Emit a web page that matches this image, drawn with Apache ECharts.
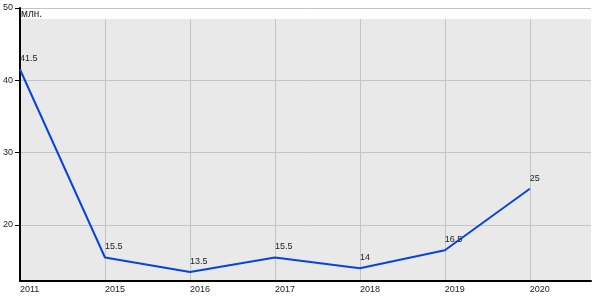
<!DOCTYPE html>
<html><head><meta charset="utf-8">
<script src="https://cdn.jsdelivr.net/npm/echarts@6/dist/echarts.min.js"></script>
<style>html,body{margin:0;padding:0;background:#fff}#c{width:600px;height:300px}</style>
</head><body><div id="c"></div>
<script>
const years = ['2011','2015','2016','2017','2018','2019','2020'];
const values = [41.5, 15.5, 13.5, 15.5, 14, 16.5, 25];
const yTicks = [20, 30, 40, 50];
const unitLabel = 'млн.';

const chart = echarts.init(document.getElementById('c'), null, {renderer:'canvas'});
const font = 'Liberation Sans, Arial, sans-serif';
chart.setOption({
  animation: false,
  grid: {left: 20, right: 9, top: 8, bottom: 19, show: true, backgroundColor: '#e9e9e9', borderWidth: 0},
  xAxis: {
    type: 'value', min: 0, max: 6.72,
    axisLine: {show: true, lineStyle: {color: '#000', width: 2}},
    axisTick: {show: false, customValues: years.map((_, i) => i)},
    axisLabel: {customValues: years.map((_, i) => i), formatter: v => years[Math.round(v)] || '',
      align: 'left', margin: 4, fontSize: 9, fontFamily: font, color: '#222', showMaxLabel: true, showMinLabel: true},
    splitLine: {show: true, lineStyle: {color: '#c4c4c4', width: 1}}
  },
  yAxis: {
    type: 'value', min: 12.25, max: 50,
    axisLine: {show: true, onZero: false, lineStyle: {color: '#000', width: 2}},
    axisTick: {show: true, length: 5, customValues: yTicks, lineStyle: {color: '#000', width: 1}},
    axisLabel: {customValues: yTicks, margin: 7, fontSize: 9, fontFamily: font, color: '#222'},
    splitLine: {show: true, lineStyle: {color: '#c4c4c4', width: 1}}
  },
  graphic: [
    {type: 'rect', left: 21, top: 9, shape: {width: 570, height: 10}, style: {fill: '#fff'}, z: 100},
    {type: 'text', left: 21, top: 9, style: {text: unitLabel, font: '10px ' + font, fill: '#222'}, z: 101}
  ],
  series: [{
    type: 'line',
    data: values.map((v, i) => [i, v]),
    showSymbol: true,
    symbol: 'circle',
    symbolSize: 2,
    itemStyle: {color: 'rgba(0,0,0,0)', borderWidth: 0},
    lineStyle: {color: '#0644e0', width: 2},
    label: {show: true, position: 'top', align: 'left', distance: 5, fontSize: 9, fontFamily: font, color: '#222',
      formatter: p => String(p.value[1])},
    labelLayout: {hideOverlap: false}
  }]
});
</script></body></html>
